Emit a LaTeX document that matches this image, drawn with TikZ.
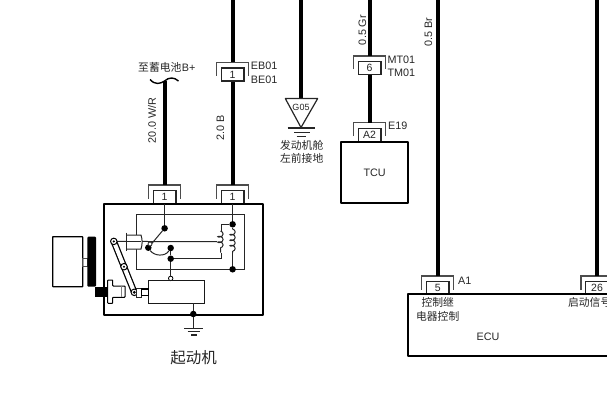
\documentclass[tikz,border=0pt]{standalone}
\usepackage{fontspec}
\setmainfont{Liberation Sans}
\newfontfamily\cjk{Noto Sans CJK SC}
\usetikzlibrary{decorations.pathmorphing}
\definecolor{ink}{gray}{0.15}
\tikzset{
  wire/.style={line width=4pt,black,shorten >=5pt},
  pinbox/.style={draw=ink,line width=1.3pt,minimum width=22.5pt,minimum height=13pt,inner sep=0pt,font=\fontsize{10.5}{10.5}\selectfont,text=ink,fill=white},
  bracket/.style={draw=black!70,line width=1.3pt},
  heavy/.style={draw=black,line width=1.9pt,line join=round},
  thin line/.style={draw=black!85,line width=1pt},
  dotn/.style={circle,fill=black,inner sep=0pt,minimum size=6.5pt},
  opendot/.style={circle,draw=black,fill=white,line width=0.8pt,inner sep=0pt,minimum size=4.5pt},
  lab/.style={inner sep=0pt,text=ink,font=\fontsize{10.8}{11}\selectfont},
  cnl/.style={inner sep=0pt,text=ink,font=\cjk\fontsize{10.8}{11}\selectfont},
  labl/.style={lab,anchor=west},
  rotlab/.style={lab,rotate=90},
  coil/.style={draw=black!85,line width=1pt,decorate,decoration={coil,aspect=0.6,segment length=5.5pt,amplitude=2.6pt}},
  gnd/.style={draw=black!85,line width=1.1pt}
}
\newcommand{\pinat}[4]{% name, cx, top of inner box, text
  \node[pinbox,anchor=north] (#1) at (#2,#3) {#4};
  \draw[bracket] ([xshift=-16pt,yshift=-8.5pt]#1.north) |- ([yshift=5pt]#1.north) -| ([xshift=16pt,yshift=-8.5pt]#1.north);
}
\begin{document}
\begin{tikzpicture}[x=1pt,y=-1pt]
\useasboundingbox (0,0) rectangle (607,409);
% free wire ends
\coordinate (topB) at (232.6,0);
\coordinate (topG) at (301,0);
\coordinate (topGr) at (369.6,0);
\coordinate (topBr) at (437.7,0);
\coordinate (top26) at (597,0);
\coordinate (bat) at (164.6,81);
% connector pins
\pinat{sA}{164.6}{190}{1}
\pinat{sB}{232.6}{190}{1}
\pinat{eb}{232.6}{67.5}{1}
\pinat{mt}{369.6}{61}{6}
\pinat{az}{369.6}{127.5}{A2}
\pinat{five}{437.7}{281}{5}
\pinat{tsix}{597}{281}{26}
% wires
\draw[wire] (topB) -- (eb.north);
\draw[wire] (eb.south) -- (sB.north);
\draw[wire] (bat) -- (sA.north);
\draw[wire] (topGr) -- (mt.north);
\draw[wire] (mt.south) -- (az.north);
\draw[wire] (topBr) -- (five.north);
\draw[wire] (top26) -- (tsix.north);
% battery break mark
\draw[black,line width=1.4pt] (150,79.5) .. controls (155,85) and (160,84) .. (164.6,81) .. controls (169,77) and (174,77) .. (178.5,81);
\node[cnl,anchor=west] (batl) at (138,67.5) {至蓄电池};
\node[lab,anchor=west] (batb) at (batl.east) {B+};
% wire labels
\node[rotlab] (l1) at (152,120.5) {20.0 W/R};
\node[rotlab] (l2) at (220.5,128) {2.0 B};
\node[rotlab] (l3) at (362.3,30) {0.5 Gr};
\node[rotlab] (l4) at (428.3,32) {0.5 Br};
% connector labels
\node[labl] (t1) at (250.7,66) {EB01};
\node[labl] (t2) at (250.7,80) {BE01};
\node[labl] (t3) at (387.3,60) {MT01};
\node[labl] (t4) at (387.3,73) {TM01};
\node[labl] (t5) at (388,125.5) {E19};
\node[labl] (t6) at (458,281) {A1};
% G05 ground
\coordinate (gtl) at (285.3,98.5);
\coordinate (gtr) at (317.7,98.5);
\coordinate (gta) at (301,127.5);
\draw[line width=4pt,black] (topG) -- (301,98.5);
\draw[draw=black!85,line width=1.2pt,line join=round] (gtl) -- (gtr) -- (gta) -- cycle;
\node[inner sep=0pt,text=ink,font=\fontsize{9}{9}\selectfont] (g05) at (301,107) {G05};
\draw[gnd] (287.7,128) -- (315,128);
\draw[gnd] (294,132.7) -- (310,132.7);
\draw[gnd] (296.7,136.7) -- (306,136.7);
\node[cnl] (g1) at (301.7,145) {发动机舱};
\node[cnl] (g2) at (301.7,158.7) {左前接地};
% TCU
\node[heavy,draw,minimum width=67.3pt,minimum height=61.6pt,inner sep=0pt,anchor=north west,text=ink,font=\fontsize{10.8}{11}\selectfont] (tcu) at (340,140.7) {TCU};
% ECU
\draw[heavy] (612,294) -- (408.3,294) -- (408.3,355.7) -- (612,355.7);
\node[lab] (ecu) at (488,336.7) {ECU};
\node[cnl] (e1) at (437.7,302.7) {控制继};
\node[cnl] (e2) at (437.7,316.7) {电器控制};
\node[cnl] (e3) at (589.7,302.7) {启动信号};
% Starter
\node[heavy,draw,minimum width=159pt,minimum height=111.3pt,inner sep=0pt,anchor=north west] (st) at (102.7,202.7) {};
\node[inner sep=0pt,text=ink,font=\cjk\fontsize{15.5}{16}\selectfont] (stl) at (193.5,358) {起动机};
% inner frame
\draw[thin line] (136.7,214) rectangle (244,269.3);
\node[dotn] (d1) at (164.6,228.3) {};
\node[dotn] (d2) at (148.3,247.7) {};
\node[dotn] (d3) at (170.7,248) {};
\node[dotn] (d4) at (170.7,258.7) {};
\node[dotn] (d5) at (232.6,224.3) {};
\node[dotn] (d6) at (232.6,269.3) {};
\node[dotn] (d7) at (193.3,314) {};
\node[opendot] (o1) at (170.7,278.4) {};
\coordinate (armc) at (150,244);
\draw[thin line] (sA.south) -- (d1);
\draw[thin line] (sB.south) -- (d5);
\draw[thin line] (d1) -- (d2);
\draw[thin line] (d2) .. controls (154,256) and (165,257) .. (d3);
\draw[thin line] (d3) -- (d4);
\draw[thin line] (d4) -- (o1);
\draw[thin line] (d4) -| (221.7,252.5);
\coordinate (c1t) at (220.5,231);
\coordinate (c1b) at (220.5,252.5);
\coordinate (c2t) at (232.6,229);
\coordinate (c2b) at (232.6,253);
\draw[thin line] (d5) -| (221.7,231);
\draw[coil] (c1t) -- (c1b);
\draw[thin line] (d5) -- (c2t);
\draw[coil] (c2t) -- (c2b);
\draw[thin line] (c2b) -- (d6);
% plunger rod and contact
\coordinate (piv) at (113.8,241.4);
\coordinate (pmid) at (124,266.7);
\coordinate (pbot) at (134.3,292.3);
\draw[thin line] (piv) -- (217,241.7);
\draw[thin line,fill=white] (126,235) -- (141,235) .. controls (142.5,240) and (142.5,244) .. (141,249) -- (126,249);
\draw[thin line] (126,232.5) -- (126,251);
\draw[thin line] (126,241.7) -- (141,241.7);
\node[circle,draw=black!85,line width=0.8pt,fill=white,inner sep=0pt,minimum size=4pt] (armo) at (armc) {};
% lever
\draw[black,line width=6.5pt,line cap=round] (piv) -- (pbot);
\draw[white,line width=4pt,line cap=round] (piv) -- (pbot);
\node[circle,draw=black,fill=white,line width=1pt,inner sep=0pt,minimum size=6.5pt] (p1) at (piv) {};
\node[circle,draw=black,fill=white,line width=1pt,inner sep=0pt,minimum size=6.5pt] (p2) at (pmid) {};
\node[circle,draw=black,fill=white,line width=1pt,inner sep=0pt,minimum size=6.5pt] (p3) at (pbot) {};
\fill[black] (piv) circle (1.2pt) (pmid) circle (1.2pt) (pbot) circle (1.6pt);
% solenoid
\node[draw=black!90,line width=1pt,minimum width=56pt,minimum height=23pt,inner sep=0pt,anchor=north west] (sol) at (148.3,280.3) {};
\draw[thin line,fill=white] (136.7,288.3) rectangle (141.7,297.3);
\draw[black,line width=1.2pt,fill=white] (141.7,289) rectangle (148.3,295.7);
\draw[thin line] (193.3,303.3) -- (d7);
\draw[thin line] (d7) -- (193.3,328.3);
\draw[gnd] (184.3,328.3) -- (203.3,328.3);
\draw[gnd] (187.7,331.7) -- (200,331.7);
\draw[gnd] (191,335) -- (197,335);
% motor and pinion
\draw[black,line width=1.3pt,rounded corners=0.5pt] (52.7,236.7) rectangle (82.7,286.7);
\draw[black!70,line width=0.8pt] (82.7,258) rectangle (87.3,266.7);
\fill[black,rounded corners=1pt] (87.3,236.7) rectangle (96,286.7);
\fill[black] (95,286.7) rectangle (108.3,297.3);
\draw[black,line width=1pt,fill=white,rounded corners=0.6pt] (107.7,280) -- (112.7,280) -- (112.7,286) -- (125,286) -- (125,297.3) -- (112.7,297.3) -- (112.7,303.3) -- (107.7,303.3) -- cycle;
\draw[black!50,line width=0.8pt] (121.5,286) -- (121.5,297.3);
\end{tikzpicture}
\end{document}
